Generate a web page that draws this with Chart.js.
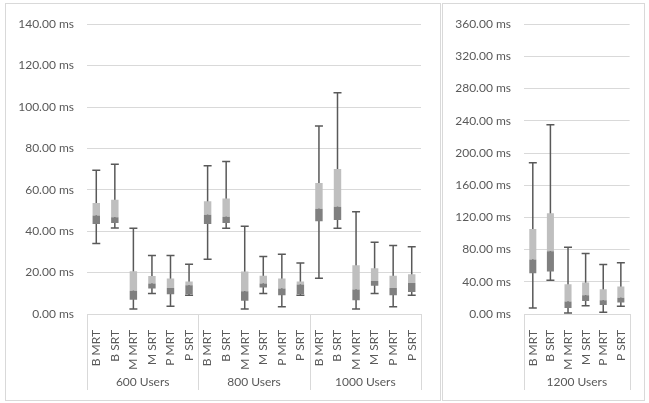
<!DOCTYPE html>
<html>
<head>
<meta charset="utf-8">
<script src="https://cdn.jsdelivr.net/npm/chart.js@4"></script>
<style>
  body { margin: 0; background: #fff; }
  .panel { position: absolute; top: 3px; height: 398px; border: 1px solid #d9d9d9; box-sizing: border-box; }
  #left { left: 5px; width: 436px; }
  #right { left: 442px; width: 203px; }
</style>
</head>
<body>
<div class="panel" id="left"><canvas id="c1"></canvas></div>
<div class="panel" id="right"><canvas id="c2"></canvas></div>
<script>
const kinds = ['B MRT', 'B SRT', 'M MRT', 'M SRT', 'P MRT', 'P SRT'] ;

// left panel: 600 / 800 / 1000 users
const groupsLeft = ['600 Users', '800 Users', '1000 Users'] ;
const minLeft = [34.1, 41.6, 2.4, 9.9, 3.7, 9.1, 26.4, 41.4, 2.4, 9.9, 3.5, 9.1, 17.3, 41.4, 2.4, 9.9, 3.5, 9.1] ;
const q1Left  = [43.5, 44.0, 6.9, 12.3, 9.6, 9.6, 43.5, 44.0, 6.4, 12.8, 9.1, 9.6, 44.8, 45.4, 6.7, 13.6, 9.1, 10.6] ;
const medLeft = [47.6, 46.7, 11.2, 14.7, 12.6, 13.9, 48.0, 47.0, 11.0, 14.7, 12.3, 14.2, 50.8, 51.8, 11.8, 16.0, 12.6, 15.0] ;
const q3Left  = [53.6, 55.2, 20.6, 18.4, 17.1, 15.7, 54.5, 55.8, 20.5, 18.5, 17.1, 15.7, 63.3, 70.0, 23.5, 22.1, 18.5, 19.2] ;
const maxLeft = [69.5, 72.4, 41.4, 28.3, 28.3, 24.0, 71.6, 73.7, 42.4, 27.8, 28.9, 24.6, 90.8, 106.9, 49.4, 34.7, 33.1, 32.5] ;

// right panel: 1200 users
const groupsRight = ['1200 Users'] ;
const minRight = [7.4, 41.8, 1.2, 10.3, 2.1, 9.5] ;
const q1Right  = [50.5, 52.9, 7.4, 16.0, 11.1, 14.4] ;
const medRight = [67.7, 77.9, 15.6, 23.4, 17.2, 20.1] ;
const q3Right  = [105.5, 125.2, 36.9, 39.0, 30.8, 34.1] ;
const maxRight = [187.9, 235.1, 82.8, 75.1, 61.5, 63.6] ;

const textColor = '#595959' ;
const gridColor = '#d9d9d9' ;
const font = { family: 'Lato, "Open Sans", sans-serif', size: 12 } ;

// whiskers drawn under the boxes
function whiskerPlugin(lo, hi) {
    return {
        id: 'whiskers',
        beforeDatasetsDraw(chart) {
            const { ctx, scales: { x, y } } = chart ;
            ctx.save() ;
            ctx.strokeStyle = textColor ;
            ctx.lineWidth = 1.5 ;
            lo.forEach((v, i) => {
                const px = x.getPixelForValue(i) ;
                const yl = y.getPixelForValue(v) ;
                const yh = y.getPixelForValue(hi[i]) ;
                ctx.beginPath() ;
                ctx.moveTo(px, yl) ; ctx.lineTo(px, yh) ;
                ctx.moveTo(px - 4, yl) ; ctx.lineTo(px + 4, yl) ;
                ctx.moveTo(px - 4, yh) ; ctx.lineTo(px + 4, yh) ;
                ctx.stroke() ;
            }) ;
            ctx.restore() ;
        }
    } ;
}

// group labels and separators under the category axis
function groupPlugin(groups) {
    return {
        id: 'groups',
        afterDraw(chart) {
            const { ctx, chartArea: { left, right, bottom }, scales: { x } } = chart ;
            const per = kinds.length ;
            const step = (right - left) / (groups.length * per) ;
            ctx.save() ;
            ctx.strokeStyle = gridColor ;
            ctx.lineWidth = 1 ;
            for (let g = 0 ; g <= groups.length ; g++) {
                const px = Math.round(left + g * per * step) + 0.5 ;
                ctx.beginPath() ;
                ctx.moveTo(px, bottom) ; ctx.lineTo(px, bottom + 76) ;
                ctx.stroke() ;
            }
            ctx.fillStyle = textColor ;
            ctx.font = '12px ' + font.family ;
            ctx.textAlign = 'center' ;
            ctx.textBaseline = 'middle' ;
            groups.forEach((name, g) => {
                ctx.fillText(name, left + (g + 0.5) * per * step, bottom + 68) ;
            }) ;
            ctx.restore() ;
        }
    } ;
}

function makeChart(el, groups, lo, q1, med, q3, hi, yMax, yStep, padRight) {
    const labels = [] ;
    groups.forEach(() => kinds.forEach(k => labels.push(k))) ;
    return new Chart(el, {
        type: 'bar',
        data: {
            labels: labels,
            datasets: [{
                data: q1.map((v, i) => [v, med[i]]),
                backgroundColor: '#808080',
                grouped: false,
                barPercentage: 0.4,
                categoryPercentage: 1
            }, {
                data: med.map((v, i) => [v, q3[i]]),
                backgroundColor: '#bfbfbf',
                grouped: false,
                barPercentage: 0.4,
                categoryPercentage: 1
            }]
        },
        options: {
            responsive: true,
            maintainAspectRatio: false,
            animation: false,
            events: [],
            layout: { padding: { top: 20, right: padRight, left: 0, bottom: 0 } },
            scales: {
                x: {
                    grid: { display: false },
                    border: { display: true, color: gridColor },
                    ticks: { color: textColor, font: font, minRotation: 90, maxRotation: 90, padding: 8, autoSkip: false },
                    afterFit(scale) { scale.height = 86 ; }
                },
                y: {
                    min: 0,
                    max: yMax,
                    grid: { color: gridColor, drawTicks: false },
                    border: { display: false },
                    ticks: {
                        stepSize: yStep,
                        color: textColor,
                        font: font,
                        padding: 13,
                        callback: v => v.toFixed(2) + ' ms'
                    },
                    afterFit(scale) { scale.width = 81 ; }
                }
            },
            plugins: {
                legend: { display: false },
                tooltip: { enabled: false }
            }
        },
        plugins: [whiskerPlugin(lo, hi), groupPlugin(groups)]
    }) ;
}

makeChart(document.getElementById('c1'), groupsLeft, minLeft, q1Left, medLeft, q3Left, maxLeft, 140, 20, 19) ;
makeChart(document.getElementById('c2'), groupsRight, minRight, q1Right, medRight, q3Right, maxRight, 360, 40, 9) ;
</script>
</body>
</html>
